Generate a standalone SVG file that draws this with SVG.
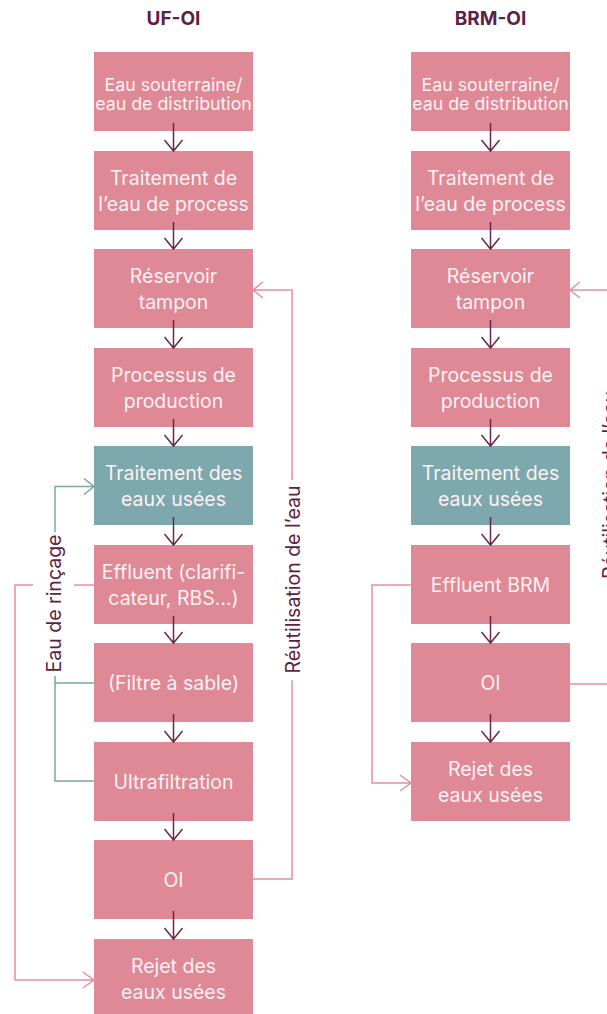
<svg xmlns="http://www.w3.org/2000/svg" width="607" height="1014" viewBox="0 0 607 1014">
  <style>
    .title { font-family: Inter, "Liberation Sans", sans-serif; font-weight: 700; font-size: 19px; fill: #5e1f45; text-anchor: middle; }
    .box { fill: #df8996; }
    .box.teal { fill: #7da8ad; }
    .lbl { font-family: Inter, "Liberation Sans", sans-serif; font-size: 19.5px; fill: #fdf1f3; text-anchor: middle; }
    .lbl.small { font-size: 17.8px; }
    .side { font-family: Inter, "Liberation Sans", sans-serif; font-size: 19.5px; fill: #5e1f45; text-anchor: middle; }
    .flow { fill: none; stroke: #6b2648; stroke-width: 1.5; }
    .pink { fill: none; stroke: #e4909d; stroke-width: 1.5; }
    .teal-line { fill: none; stroke: #77a7ab; stroke-width: 1.5; }
  </style>

  <!-- column titles -->
  <text class="title" x="173.5" y="25">UF-OI</text>
  <text class="title" x="490.5" y="25">BRM-OI</text>

  <!-- ===== UF-OI process chain ===== -->
  <g id="uf-source">
    <rect class="box" x="94" y="52" width="159" height="79"/>
    <text class="lbl small" x="173.5" y="91">Eau souterraine/</text>
    <text class="lbl small" x="173.5" y="110">eau de distribution</text>
  </g>
  <g id="uf-pretreat">
    <rect class="box" x="94" y="151" width="159" height="79"/>
    <text class="lbl" x="173.5" y="184.5">Traitement de</text>
    <text class="lbl" x="173.5" y="211">l’eau de process</text>
  </g>
  <g id="uf-buffer">
    <rect class="box" x="94" y="249" width="159" height="79"/>
    <text class="lbl" x="173.5" y="282.5">Réservoir</text>
    <text class="lbl" x="173.5" y="309">tampon</text>
  </g>
  <g id="uf-production">
    <rect class="box" x="94" y="348" width="159" height="79"/>
    <text class="lbl" x="173.5" y="381.5">Processus de</text>
    <text class="lbl" x="173.5" y="408">production</text>
  </g>
  <g id="uf-wwtp">
    <rect class="box teal" x="94" y="446" width="159" height="79"/>
    <text class="lbl" x="173.5" y="479.5">Traitement des</text>
    <text class="lbl" x="173.5" y="506">eaux usées</text>
  </g>
  <g id="uf-effluent">
    <rect class="box" x="94" y="545" width="159" height="79"/>
    <text class="lbl" x="173.5" y="578.5">Effluent (clarifi-</text>
    <text class="lbl" x="173.5" y="605">cateur, RBS…)</text>
  </g>
  <g id="uf-sandfilter">
    <rect class="box" x="94" y="643" width="159" height="79"/>
    <text class="lbl" x="173.5" y="689.5">(Filtre à sable)</text>
  </g>
  <g id="uf-ultrafiltration">
    <rect class="box" x="94" y="742" width="159" height="79"/>
    <text class="lbl" x="173.5" y="788.5">Ultrafiltration</text>
  </g>
  <g id="uf-ro">
    <rect class="box" x="94" y="840" width="159" height="79"/>
    <text class="lbl" x="173.5" y="886.5">OI</text>
  </g>
  <g id="uf-discharge">
    <rect class="box" x="94" y="939" width="159" height="79"/>
    <text class="lbl" x="173.5" y="972.5">Rejet des</text>
    <text class="lbl" x="173.5" y="999">eaux usées</text>
  </g>

  <!-- ===== BRM-OI process chain ===== -->
  <g id="mbr-source">
    <rect class="box" x="411" y="52" width="159" height="79"/>
    <text class="lbl small" x="490.5" y="91">Eau souterraine/</text>
    <text class="lbl small" x="490.5" y="110">eau de distribution</text>
  </g>
  <g id="mbr-pretreat">
    <rect class="box" x="411" y="151" width="159" height="79"/>
    <text class="lbl" x="490.5" y="184.5">Traitement de</text>
    <text class="lbl" x="490.5" y="211">l’eau de process</text>
  </g>
  <g id="mbr-buffer">
    <rect class="box" x="411" y="249" width="159" height="79"/>
    <text class="lbl" x="490.5" y="282.5">Réservoir</text>
    <text class="lbl" x="490.5" y="309">tampon</text>
  </g>
  <g id="mbr-production">
    <rect class="box" x="411" y="348" width="159" height="79"/>
    <text class="lbl" x="490.5" y="381.5">Processus de</text>
    <text class="lbl" x="490.5" y="408">production</text>
  </g>
  <g id="mbr-wwtp">
    <rect class="box teal" x="411" y="446" width="159" height="79"/>
    <text class="lbl" x="490.5" y="479.5">Traitement des</text>
    <text class="lbl" x="490.5" y="506">eaux usées</text>
  </g>
  <g id="mbr-effluent">
    <rect class="box" x="411" y="545" width="159" height="79"/>
    <text class="lbl" x="490.5" y="591.5">Effluent BRM</text>
  </g>
  <g id="mbr-ro">
    <rect class="box" x="411" y="643" width="159" height="79"/>
    <text class="lbl" x="490.5" y="689.5">OI</text>
  </g>
  <g id="mbr-discharge">
    <rect class="box" x="411" y="742" width="159" height="79"/>
    <text class="lbl" x="490.5" y="775.5">Rejet des</text>
    <text class="lbl" x="490.5" y="802">eaux usées</text>
  </g>

  <!-- ===== connectors ===== -->
  <g id="connectors">
    <!-- main downward flow, UF-OI -->
    <path class="flow" d="M173.5,123 V151 M164.5,140 L173.5,151 L182.5,140"/>
    <path class="flow" d="M173.5,222 V249 M164.5,238 L173.5,249 L182.5,238"/>
    <path class="flow" d="M173.5,320 V348 M164.5,337 L173.5,348 L182.5,337"/>
    <path class="flow" d="M173.5,419 V446 M164.5,435 L173.5,446 L182.5,435"/>
    <path class="flow" d="M173.5,517 V545 M164.5,534 L173.5,545 L182.5,534"/>
    <path class="flow" d="M173.5,616 V643 M164.5,632 L173.5,643 L182.5,632"/>
    <path class="flow" d="M173.5,714 V742 M164.5,731 L173.5,742 L182.5,731"/>
    <path class="flow" d="M173.5,813 V840 M164.5,829 L173.5,840 L182.5,829"/>
    <path class="flow" d="M173.5,911 V939 M164.5,928 L173.5,939 L182.5,928"/>

    <!-- main downward flow, BRM-OI -->
    <path class="flow" d="M490.5,123 V151 M481.5,140 L490.5,151 L499.5,140"/>
    <path class="flow" d="M490.5,222 V249 M481.5,238 L490.5,249 L499.5,238"/>
    <path class="flow" d="M490.5,320 V348 M481.5,337 L490.5,348 L499.5,337"/>
    <path class="flow" d="M490.5,419 V446 M481.5,435 L490.5,446 L499.5,435"/>
    <path class="flow" d="M490.5,517 V545 M481.5,534 L490.5,545 L499.5,534"/>
    <path class="flow" d="M490.5,616 V643 M481.5,632 L490.5,643 L499.5,632"/>
    <path class="flow" d="M490.5,714 V742 M481.5,731 L490.5,742 L499.5,731"/>

    <!-- rinse water back to wastewater treatment (UF-OI) -->
    <path class="teal-line" d="M55,532 V486.5 H94 M84,478.5 L94,486.5 L84,494.5"/>
    <path class="teal-line" d="M55,676 V781 H94 M55,683 H94"/>
    <text class="side" transform="translate(61,603.5) rotate(-90)">Eau de rinçage</text>

    <!-- effluent bypass to discharge (UF-OI) -->
    <path class="pink" d="M94,585 H74"/>
    <path class="pink" d="M33,585 H15 V980 H94 M83,972 L94,980 L83,988"/>

    <!-- water reuse from RO back to buffer (UF-OI) -->
    <path class="pink" d="M292,480 V290 H253 M263,282 L253,290 L263,298"/>
    <path class="pink" d="M292,680 V879 H253"/>
    <text class="side" transform="translate(299.5,579.5) rotate(-90)">Réutilisation de l’eau</text>

    <!-- effluent bypass to discharge (BRM-OI) -->
    <path class="pink" d="M411,585 H372 V783 H411 M400,775 L411,783 L400,791"/>

    <!-- water reuse from RO back to buffer (BRM-OI) -->
    <path class="pink" d="M609,385 V290 H570 M580,282 L570,290 L580,298"/>
    <path class="pink" d="M609,587 V684 H570"/>
    <text class="side" transform="translate(616.5,485) rotate(-90)">Réutilisation de l’eau</text>
  </g>
</svg>
